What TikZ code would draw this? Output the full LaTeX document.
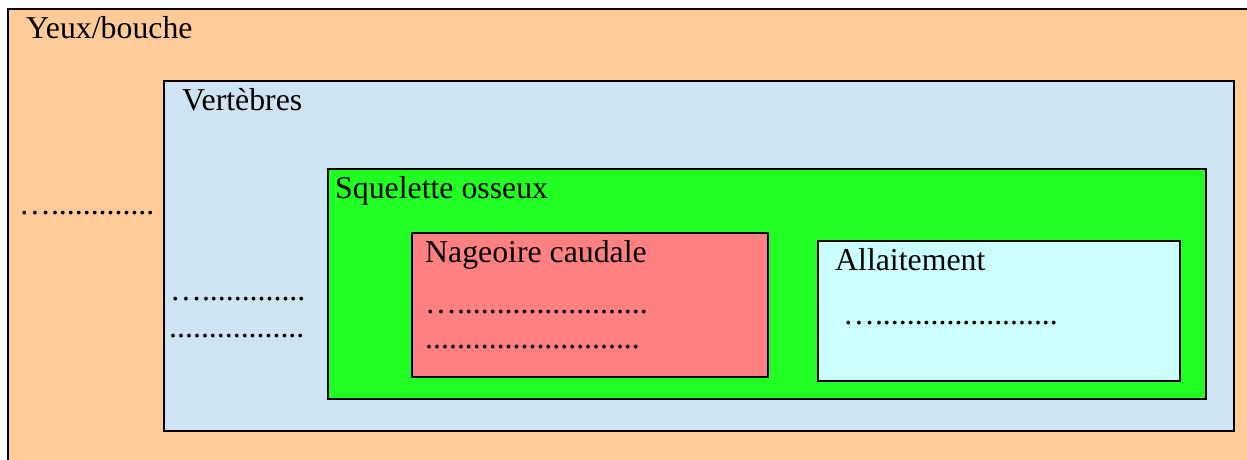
\documentclass[tikz,border=0pt]{standalone}
\usepackage{fontspec}
\setmainfont{Liberation Serif}
\definecolor{cOrange}{RGB}{255,203,153}
\definecolor{cBlue}{RGB}{207,228,242}
\definecolor{cGreen}{RGB}{34,255,34}
\definecolor{cPink}{RGB}{255,128,128}
\definecolor{cCyan}{RGB}{204,255,255}
\tikzset{
  boxframe/.style={draw=black, line width=1.6pt},
  lbl/.style={anchor=base west, inner sep=0pt, font=\fontsize{31.8}{36}\selectfont, text=black},
}
\begin{document}
\begin{tikzpicture}[x=1pt,y=-1pt]
\useasboundingbox (0,0) rectangle (1247,459);
\clip (0,0) rectangle (1247,459);
% boxes
\fill[white] (0,0) rectangle (1247,459);
\draw[boxframe, fill=cOrange] (8,9) rectangle (1270,480);
\draw[boxframe, fill=cBlue] (164,81) rectangle (1234,431);
\draw[boxframe, fill=cGreen] (328,169) rectangle (1206,399);
\draw[boxframe, fill=cPink] (412,233) rectangle (768,377);
\draw[boxframe, fill=cCyan] (818,241) rectangle (1180,381);
% labels
\node[lbl] (yeux) at (26,38) {Yeux/bouche};
\node[lbl] (yeuxd) at (19,214) {….............};
\node[lbl] (vert) at (182,110) {Vertèbres};
\node[lbl] (vertd1) at (170,300) {….............};
\node[lbl] (vertd2) at (169,337) {.................};
\node[lbl] (sq) at (335,198) {Squelette osseux};
\node[lbl] (nag) at (425,262) {Nageoire caudale};
\node[lbl] (nagd1) at (425,313) {…........................};
\node[lbl] (nagd2) at (425,348) {...........................};
\node[lbl] (all) at (835,270) {Allaitement};
\node[lbl] (alld) at (843,324) {….......................};
\end{tikzpicture}
\end{document}
